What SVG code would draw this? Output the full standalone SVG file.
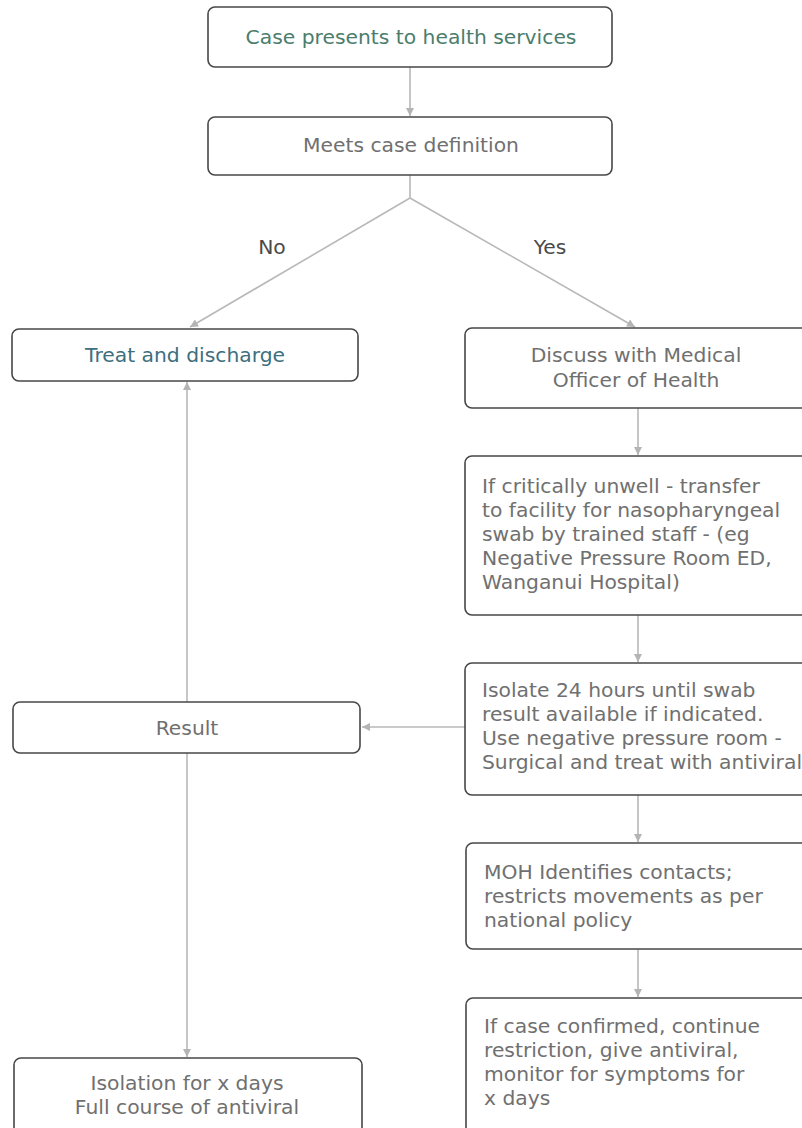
<svg xmlns="http://www.w3.org/2000/svg" width="802" height="1128" viewBox="0 0 802 1128">
<defs>
<marker id="ah" viewBox="0 0 10 10" refX="10" refY="5" markerWidth="9" markerHeight="8" markerUnits="userSpaceOnUse" orient="auto">
<path d="M0,0 L10,5 L0,10 z" fill="#b4b4b4"/>
</marker>
<style>
.box{fill:#fff;stroke:#474747;stroke-width:1.6}
.t{font-family:"DejaVu Sans",sans-serif;font-size:20.3px;fill:#707070}
.c{text-anchor:middle}
.lbl{font-family:"DejaVu Sans",sans-serif;font-size:20.3px;fill:#4a4a4a;text-anchor:middle}
.con{fill:none;stroke:#b8b8b8;stroke-width:1.6}
</style>
</defs>
<rect width="802" height="1128" fill="#fff"/>
<g id="connectors">
<path class="con" d="M410,67 V116" marker-end="url(#ah)"/>
<path class="con" d="M410,175 V198"/>
<path class="con" d="M410,198 L190,327" marker-end="url(#ah)"/>
<path class="con" d="M410,198 L635,327" marker-end="url(#ah)"/>
<path class="con" d="M638,408 V455" marker-end="url(#ah)"/>
<path class="con" d="M638,615 V662" marker-end="url(#ah)"/>
<path class="con" d="M638,795 V842" marker-end="url(#ah)"/>
<path class="con" d="M638,949 V997" marker-end="url(#ah)"/>
<path class="con" d="M465,727 H362" marker-end="url(#ah)"/>
<path class="con" d="M187,702 V382" marker-end="url(#ah)"/>
<path class="con" d="M187,753 V1057" marker-end="url(#ah)"/>
<text class="lbl" x="272" y="254">No</text>
<text class="lbl" x="550" y="254">Yes</text>
</g>
<g id="n1">
<rect class="box" x="208" y="7" width="404" height="60" rx="7"/>
<text class="t c" x="411" y="44" style="fill:#4a7d6c">Case presents to health services</text>
</g>
<g id="n2">
<rect class="box" x="208" y="117" width="404" height="58" rx="7"/>
<text class="t c" x="411" y="152">Meets case definition</text>
</g>
<g id="treat">
<rect class="box" x="12" y="329" width="346" height="52" rx="7"/>
<text class="t c" x="185" y="362" style="fill:#3d6f80">Treat and discharge</text>
</g>
<g id="discuss">
<rect class="box" x="465" y="328" width="350" height="80" rx="7"/>
<text class="t c" x="636" y="362">Discuss with Medical</text>
<text class="t c" x="636" y="387">Officer of Health</text>
</g>
<g id="critical">
<rect class="box" x="465" y="456" width="350" height="159" rx="7"/>
<text class="t" x="482" y="493">If critically unwell - transfer</text>
<text class="t" x="482" y="517">to facility for nasopharyngeal</text>
<text class="t" x="482" y="541">swab by trained staff - (eg</text>
<text class="t" x="482" y="565">Negative Pressure Room ED,</text>
<text class="t" x="482" y="589">Wanganui Hospital)</text>
</g>
<g id="isolate">
<rect class="box" x="465" y="663" width="350" height="132" rx="7"/>
<text class="t" x="482" y="697">Isolate 24 hours until swab</text>
<text class="t" x="482" y="721">result available if indicated.</text>
<text class="t" x="482" y="745">Use negative pressure room -</text>
<text class="t" x="482" y="769">Surgical and treat with antiviral</text>
</g>
<g id="result">
<rect class="box" x="13" y="702" width="347" height="51" rx="7"/>
<text class="t c" x="187" y="735">Result</text>
</g>
<g id="moh">
<rect class="box" x="466" y="843" width="350" height="106" rx="7"/>
<text class="t" x="484" y="879">MOH Identifies contacts;</text>
<text class="t" x="484" y="903">restricts movements as per</text>
<text class="t" x="484" y="927">national policy</text>
</g>
<g id="confirmed">
<rect class="box" x="466" y="998" width="350" height="150" rx="7"/>
<text class="t" x="484" y="1033">If case confirmed, continue</text>
<text class="t" x="484" y="1057">restriction, give antiviral,</text>
<text class="t" x="484" y="1081">monitor for symptoms for</text>
<text class="t" x="484" y="1105">x days</text>
</g>
<g id="isolation">
<rect class="box" x="14" y="1058" width="348" height="90" rx="7"/>
<text class="t c" x="187" y="1090">Isolation for x days</text>
<text class="t c" x="187" y="1114">Full course of antiviral</text>
</g>
</svg>
